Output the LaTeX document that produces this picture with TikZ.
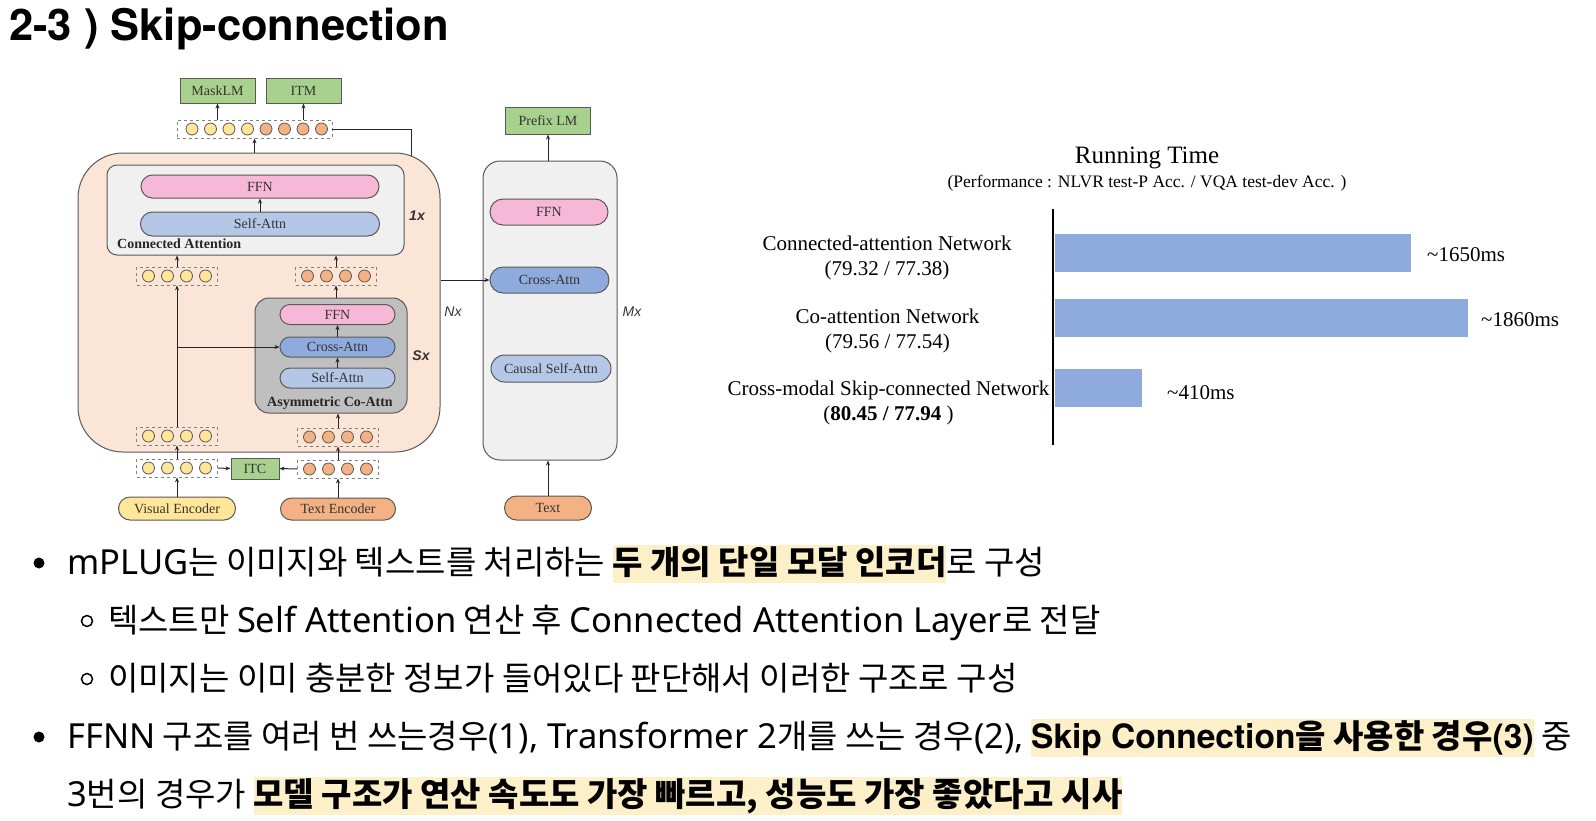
\documentclass[tikz,border=0pt]{standalone}
\usepackage{fontspec}
\setmainfont{Liberation Serif}
\newfontfamily\krfont{Noto Sans CJK KR}
\newfontfamily\lafont{Noto Sans}
\newfontfamily\labfont{TeX Gyre Heros}
\newfontfamily\arialfont{Liberation Sans}
\usetikzlibrary{arrows.meta,positioning}

\definecolor{peach}{HTML}{FBE5D6}
\definecolor{lightgr}{HTML}{F0F0F0}
\definecolor{midgr}{HTML}{BFBFBF}
\definecolor{ffnpink}{HTML}{F7B8D8}
\definecolor{sablue}{HTML}{B4C7E7}
\definecolor{cablue}{HTML}{8FAADC}
\definecolor{lmgreen}{HTML}{A9D18E}
\definecolor{visyel}{HTML}{FFE699}
\definecolor{txtorg}{HTML}{F4B183}
\definecolor{edgegr}{HTML}{595959}
\definecolor{barblue}{HTML}{8FAADC}
\definecolor{hlyellow}{RGB}{253,240,200}

\newcommand\hlite[1]{{\setlength\fboxsep{0pt}\colorbox{hlyellow}{\rule[-9pt]{0pt}{38pt}\bfseries #1}}}
\newcommand\lat[1]{{\lafont\fontsize{34.5}{40}\selectfont #1}}
\newcommand\latb[1]{{\labfont\bfseries\fontsize{33.5}{38}\selectfont #1}}

\begin{document}
\begin{tikzpicture}
  [x=1pt,y=-1pt,
   lay/.style={draw=edgegr,line width=1pt,inner sep=0pt,text=black!80,font=\fontsize{14}{16}\selectfont},
   pill/.style={lay,rounded corners=10pt,minimum height=21pt},
   sq/.style={lay,fill=lmgreen,minimum height=25pt,minimum width=75pt},
   tok/.style={circle,draw=edgegr,line width=0.8pt,minimum size=12pt,inner sep=0pt},
   trow/.style={draw=gray,dashed,line width=0.8pt,minimum height=18pt,inner sep=0pt},
   arr/.style={-{Stealth[length=5pt,width=4pt]},line width=1pt,black!85},
   tag/.style={inner sep=0pt,text=black!80,font=\arialfont\bfseries\itshape\fontsize{14}{16}\selectfont},
   ntag/.style={inner sep=0pt,text=black!80,font=\arialfont\itshape\fontsize{14}{16}\selectfont},
   bar/.style={fill=barblue,minimum height=38pt,inner sep=0pt,anchor=west},
   val/.style={anchor=west,inner sep=0pt,font=\fontsize{21}{24}\selectfont},
   clbl/.style={align=center,inner sep=0pt,font=\fontsize{21}{25}\selectfont},
   kr/.style={anchor=base west,inner sep=0pt,font=\krfont\fontsize{33}{38}\selectfont},
   dot/.style={circle,fill=black,minimum size=11pt,inner sep=0pt},
   odot/.style={circle,draw=black,line width=1.5pt,minimum size=11pt,inner sep=0pt}]
  \useasboundingbox (0,0) rectangle (1596,820);

  \node[anchor=base west,inner sep=0pt,font=\labfont\bfseries\fontsize{43.5}{48}\selectfont] (title) at (9,40) {2-3 ) Skip-connection};

  % encoder side
  \node[lay,fill=peach,rounded corners=45pt,minimum width=362pt,minimum height=299pt] (outer) at (259,302.5) {};
  \node[lay,fill=lightgr,rounded corners=10pt,minimum width=297pt,minimum height=90pt] (cabox) at (255.5,210) {};
  \node[pill,fill=ffnpink,minimum width=238pt,minimum height=23pt,rounded corners=11.5pt] (caffn) at (260,186.5) {FFN};
  \node[pill,fill=sablue,minimum width=239pt,minimum height=24pt,rounded corners=12pt] (casa) at (260,224) {Self-Attn};
  \node[anchor=west,inner sep=0pt,text=black!85,font=\bfseries\fontsize{14}{16}\selectfont] (calbl) at (117,244) {Connected Attention};
  \node[tag] (onex) at (417,216) {1x};

  \node[lay,fill=midgr,rounded corners=14pt,minimum width=152pt,minimum height=115pt] (acabox) at (331,355.5) {};
  \node[pill,fill=ffnpink,minimum width=115pt,minimum height=20pt] (acaffn) at (337.5,314.5) {FFN};
  \node[pill,fill=cablue,minimum width=115pt,minimum height=20pt] (acaca) at (337.5,347) {Cross-Attn};
  \node[pill,fill=sablue,minimum width=115pt,minimum height=20pt] (acasa) at (337.5,378) {Self-Attn};
  \node[inner sep=0pt,text=black!85,font=\bfseries\fontsize{14}{16}\selectfont] (acalbl) at (330,403) {Asymmetric Co-Attn};
  \node[tag] (sx) at (421,356) {Sx};
  \node[ntag] (nx) at (453,312) {Nx};

  \node[trow,minimum width=155pt] (toprow) at (254.5,129) {};
  \foreach \i in {0,...,3}
    \node[tok,fill=visyel] (tt\i) at (192+18.5*\i,129) {};
  \foreach \i in {4,...,7}
    \node[tok,fill=txtorg] (tt\i) at (192+18.5*\i,129) {};
  \node[sq] (masklm) at (217.5,90.5) {MaskLM};
  \node[sq] (itm) at (303.5,90.5) {ITM};

  \foreach \nm/\cx/\cy/\col in {lr1/177/276/visyel,rr1/336/276/txtorg,lr2/177/436/visyel,rr2/338/437/txtorg,lr3/177/468/visyel,rr3/338/469/txtorg}
  {
    \node[trow,minimum width=81pt] (\nm) at (\cx,\cy) {};
    \foreach \i in {0,...,3}
      \node[tok,fill=\col] (\nm-\i) at (\cx-28.5+19*\i,\cy) {};
  }
  \node[sq,minimum width=48pt,minimum height=21pt] (itc) at (255,468.5) {ITC};
  \node[pill,fill=visyel,minimum width=117pt,minimum height=23pt,rounded corners=11.5pt] (visenc) at (177,508.5) {Visual Encoder};
  \node[pill,fill=txtorg,minimum width=115pt,minimum height=22pt,rounded corners=11pt] (txtenc) at (338,509) {Text Encoder};

  % decoder side
  \node[lay,fill=lightgr,rounded corners=17pt,minimum width=134pt,minimum height=299pt] (decbox) at (550,310.5) {};
  \node[sq,minimum width=85pt,minimum height=27pt] (prefix) at (548,120.5) {Prefix LM};
  \node[pill,fill=ffnpink,minimum width=118pt,minimum height=26pt,rounded corners=13pt] (dffn) at (549,212) {FFN};
  \node[pill,fill=cablue,minimum width=119pt,minimum height=26pt,rounded corners=13pt] (dca) at (549.5,280) {Cross-Attn};
  \node[pill,fill=sablue,minimum width=120pt,minimum height=27pt,rounded corners=13.5pt] (dsa) at (551,368.5) {Causal Self-Attn};
  \node[pill,fill=txtorg,minimum width=87pt,minimum height=24pt,rounded corners=12pt] (text) at (548,508) {Text};
  \node[ntag] (mx) at (632,312) {Mx};

  \coordinate (skipend) at (411,156);
  \draw[line width=1pt,black!85] (toprow.east) -| (skipend);
  \draw[arr] (masklm.south |- toprow.north) -- (masklm.south);
  \draw[arr] (itm.south |- toprow.north) -- (itm.south);
  \draw[arr] (outer.north -| toprow) -- (toprow.south);
  \draw[arr] (casa.north) -- (caffn.south);
  \draw[arr] (lr1.north) -- (lr1.north |- cabox.south);
  \draw[arr] (rr1.north) -- (rr1.north |- cabox.south);
  \draw[arr] (acabox.north -| rr1) -- (rr1.south);
  \draw[arr] (rr2.north) -- (rr2.north |- acabox.south);
  \draw[arr] (lr2.north |- acaca.west) -- (acaca.west);
  \foreach \from/\to in {acasa/acaca,acaca/acaffn,lr2/lr1,lr3/lr2,rr3/rr2,visenc/lr3,txtenc/rr3}
    \draw[arr] (\from.north) -- (\to.south);
  \draw[arr] (lr3.east) -- (itc.west);
  \draw[arr] (rr3.west) -- (itc.east);
  \draw[arr] (prefix.south |- decbox.north) -- (prefix.south);
  \draw[arr] (text.north) -- (text.north |- decbox.south);
  \draw[arr] (outer.east |- dca.west) -- (dca.west);

  % running time chart
  \node[font=\fontsize{25}{28}\selectfont] (rtitle) at (1147,158) {Running Time};
  \node[font=\fontsize{17.5}{20}\selectfont] (rsub) at (1147,183) {(Performance : NLVR test-P Acc. / VQA test-dev Acc. )};
  \coordinate (axtop) at (1053,209);
  \coordinate (axbot) at (1053,445);
  \draw[line width=1.5pt] (axtop) -- (axbot);
  \node[bar,minimum width=356pt] (bar1) at (1055,253) {};
  \node[bar,minimum width=413pt] (bar2) at (1055,318) {};
  \node[bar,minimum width=87pt] (bar3) at (1055,388) {};
  \node[val] (v1) at (1427,255) {\textasciitilde1650ms};
  \node[val] (v2) at (1481,320) {\textasciitilde1860ms};
  \node[val] (v3) at (1167,393) {\textasciitilde410ms};
  \node[clbl] (n1) at (887,257.5) {Connected-attention Network\\(79.32 / 77.38)};
  \node[clbl] (n2) at (887.5,330.5) {Co-attention Network\\(79.56 / 77.54)};
  \node[clbl] (n3) at (888.5,403) {Cross-modal Skip-connected Network\\(\textbf{80.45 / 77.94} )};

  % bullets
  \node[dot] (d1) at (39,563) {};
  \node[kr] (l1) at (67,574) {\lat{mPLUG}는 이미지와 텍스트를 처리하는 \hlite{두 개의 단일 모달 인코더}로 구성};
  \node[odot] (o2) at (87,621) {};
  \node[kr] (l2) at (108,632) {텍스트만 \lat{Self Attention} 연산 후 \lat{Connected Attention Layer}로 전달};
  \node[odot] (o3) at (87,679) {};
  \node[kr] (l3) at (108,690) {이미지는 이미 충분한 정보가 들어있다 판단해서 이러한 구조로 구성};
  \node[dot] (d4) at (39,737) {};
  \node[kr] (l4) at (67,748) {\lat{FFNN} 구조를 여러 번 쓰는경우\lat{(1), Transformer 2}개를 쓰는 경우\lat{(2),} \hlite{\latb{Skip Connection}을 사용한 경우\latb{(3)}} 중};
  \node[kr] (l5) at (67,806) {\lat{3}번의 경우가 \hlite{모델 구조가 연산 속도도 가장 빠르고, 성능도 가장 좋았다고 시사}};
\end{tikzpicture}
\end{document}
